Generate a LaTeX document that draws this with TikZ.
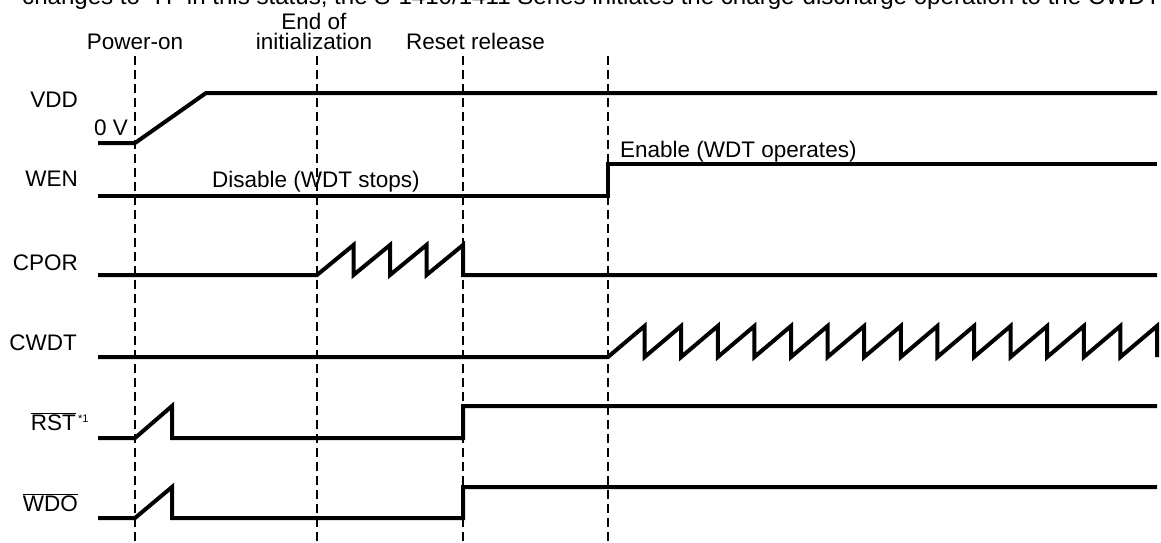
\documentclass[tikz,border=0pt]{standalone}
\usepackage{fontspec}
\setmainfont{Liberation Sans}
\begin{document}
\begin{tikzpicture}[x=1pt,y=-1pt,
  sig/.style={line width=4pt, line join=miter, line cap=butt},
  guide/.style={line width=1.8pt, dash pattern=on 9pt off 5pt},
  lbl/.style={font=\fontsize{22.5}{26}\selectfont, inner sep=0pt},
  small/.style={font=\fontsize{11}{12}\selectfont, inner sep=0pt}
]
\useasboundingbox (0,0) rectangle (1161,543);
% clipped caption line at top
\node[anchor=base west, inner sep=0pt, font=\fontsize{24.1}{28}\selectfont] (cap) at (22,5) {changes to “H” in this status, the S-1410/1411 Series initiates the charge-discharge operation to the CWDT};
% event labels
\node[lbl, anchor=base] (pon) at (135,50) {Power-on};
\node[lbl, anchor=base] (eoi1) at (314,30) {End of};
\node[lbl, anchor=base] (eoi2) at (314,50) {initialization};
\node[lbl, anchor=base west] (rr) at (406,50) {Reset release};
% guides
\foreach \n/\x in {a/135,b/317,c/463,d/608}{
  \coordinate (g\n t) at (\x,56);
  \coordinate (g\n b) at (\x,545);
  \draw[guide] (g\n t) -- (g\n b);
}
% signal labels
\node[lbl, anchor=east] (lvdd) at (78,100) {VDD};
\node[lbl, anchor=east] (lwen) at (78,179) {WEN};
\node[lbl, anchor=east] (lcpor) at (78,263) {CPOR};
\node[lbl, anchor=east] (lcwdt) at (77,343) {CWDT};
\node[lbl, anchor=east] (lrst) at (76,422) {$\overline{\hbox{RST}}$};
\node[small, anchor=north west] (lrsts) at ([xshift=2pt,yshift=-2pt]lrst.north east) {*1};
\node[lbl, anchor=east] (lwdo) at (78,503) {$\overline{\hbox{WDO}}$};
\node[lbl, anchor=east] (zv) at (128,128) {0 V};
\node[lbl, anchor=base] (dis) at (316,187) {Disable (WDT stops)};
\node[lbl, anchor=base west] (en) at (620,157) {Enable (WDT operates)};
% VDD
\draw[sig] (98,143) -- (135,143) -- (206,93) -- (1157,93);
% WEN
\draw[sig] (98,196) -- (608,196) -- (608,164) -- (1157,164);
% CPOR
\draw[sig] (98,275) -- (317,275)
  \foreach \i in {1,...,4}{ -- ({317+36.5*\i},245) -- ({317+36.5*\i},275) } -- (1157,275);
% CWDT
\draw[sig] (98,357) -- (608,357)
  \foreach \i in {1,...,15}{ -- ({608+36.6*\i},326) -- ({608+36.6*\i},357) };
% RST
\draw[sig] (98,438) -- (135,438) -- (172,406) -- (172,438) -- (463,438) -- (463,406) -- (1157,406);
% WDO
\draw[sig] (98,518) -- (135,518) -- (172,487) -- (172,518) -- (463,518) -- (463,487) -- (1157,487);
\end{tikzpicture}
\end{document}
